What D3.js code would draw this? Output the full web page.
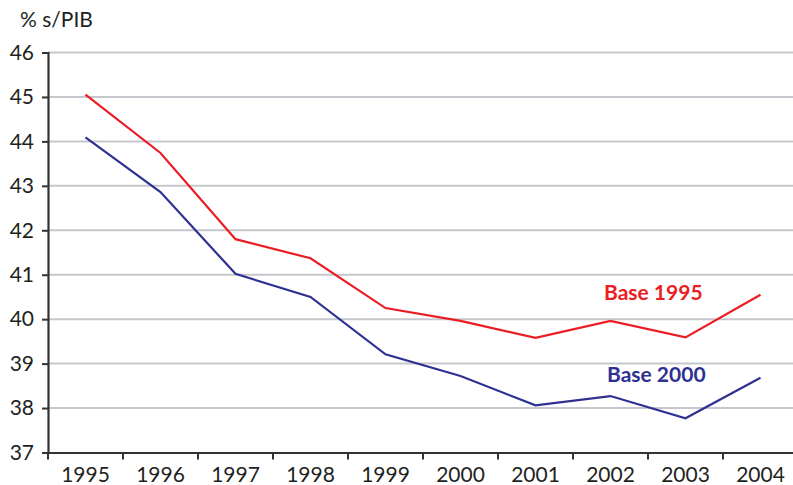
<!DOCTYPE html>
<html>
<head>
<meta charset="utf-8">
<script src="https://cdn.jsdelivr.net/npm/d3@7"></script>
<style>
  body { margin: 0; background: #fff; }
  svg text { font-family: Lato, "Open Sans", sans-serif; }
</style>
</head>
<body>
<svg id="chart"></svg>
<script>
const years = ["1995","1996","1997","1998","1999","2000","2001","2002","2003","2004"];
const base1995 = [45.05, 43.74, 41.8, 41.37, 40.25, 39.96, 39.58, 39.96, 39.59, 40.55];
const base2000 = [44.09, 42.86, 41.02, 40.5, 39.21, 38.72, 38.06, 38.27, 37.77, 38.68];
const yTicks = [37, 38, 39, 40, 41, 42, 43, 44, 45, 46];

let w = 793, h = 485;
let svg = d3.select("#chart").attr("width", w).attr("height", h);

let plotLeft = 48, plotRight = 798, plotTop = 52.5, plotBottom = 452.5;

let x = d3.scaleBand().domain(years).range([plotLeft, plotRight]);
let y = d3.scaleLinear().domain([37, 46]).range([plotBottom, plotTop]);

// gridlines
svg.append("g")
  .selectAll("line")
  .data(yTicks.filter(d => d > 37))
  .enter()
  .append("line")
  .attr("x1", plotLeft).attr("x2", plotRight)
  .attr("y1", d => y(d)).attr("y2", d => y(d))
  .attr("stroke", "#c6c7cc")
  .attr("stroke-width", 2);

// y axis
let yAxis = svg.append("g")
  .attr("transform", `translate(${plotLeft},0)`)
  .call(d3.axisLeft(y).tickValues(yTicks).tickSize(6).tickPadding(8).tickFormat(d3.format("d")));
yAxis.select(".domain").attr("stroke", "#333").attr("stroke-width", 2.2);
yAxis.selectAll(".tick line").attr("stroke", "#333").attr("stroke-width", 2);
yAxis.selectAll("text").attr("font-size", 21).attr("fill", "#231f20")
  .attr("font-family", "Lato, sans-serif");

// x axis
let xAxis = svg.append("g")
  .attr("transform", `translate(0,${plotBottom})`)
  .call(d3.axisBottom(x).tickSize(0).tickPadding(15));
xAxis.select(".domain").attr("stroke", "#333").attr("stroke-width", 2.2);
xAxis.selectAll("text").attr("font-size", 21).attr("fill", "#231f20")
  .attr("font-family", "Lato, sans-serif");

// band boundary ticks
svg.append("g")
  .selectAll("line")
  .data(years)
  .enter()
  .append("line")
  .attr("x1", d => x(d)).attr("x2", d => x(d))
  .attr("y1", plotBottom).attr("y2", plotBottom + 7)
  .attr("stroke", "#333")
  .attr("stroke-width", 2);

let line = d3.line()
  .x((d, i) => x(years[i]) + x.bandwidth() / 2)
  .y(d => y(d));

svg.append("path")
  .attr("d", line(base1995))
  .attr("fill", "none")
  .attr("stroke", "#ec1c24")
  .attr("stroke-width", 2.2);

svg.append("path")
  .attr("d", line(base2000))
  .attr("fill", "none")
  .attr("stroke", "#2e3192")
  .attr("stroke-width", 2.2);

// series labels
svg.append("text")
  .attr("x", 604).attr("y", 300)
  .attr("font-size", 21).attr("font-weight", "bold")
  .attr("fill", "#ec1c24")
  .text("Base 1995");

svg.append("text")
  .attr("x", 607).attr("y", 382)
  .attr("font-size", 21).attr("font-weight", "bold")
  .attr("fill", "#2e3192")
  .text("Base 2000");

// unit label
svg.append("text")
  .attr("x", 20).attr("y", 27)
  .attr("font-size", 21)
  .attr("fill", "#231f20")
  .text("% s/PIB");
</script>
</body>
</html>
